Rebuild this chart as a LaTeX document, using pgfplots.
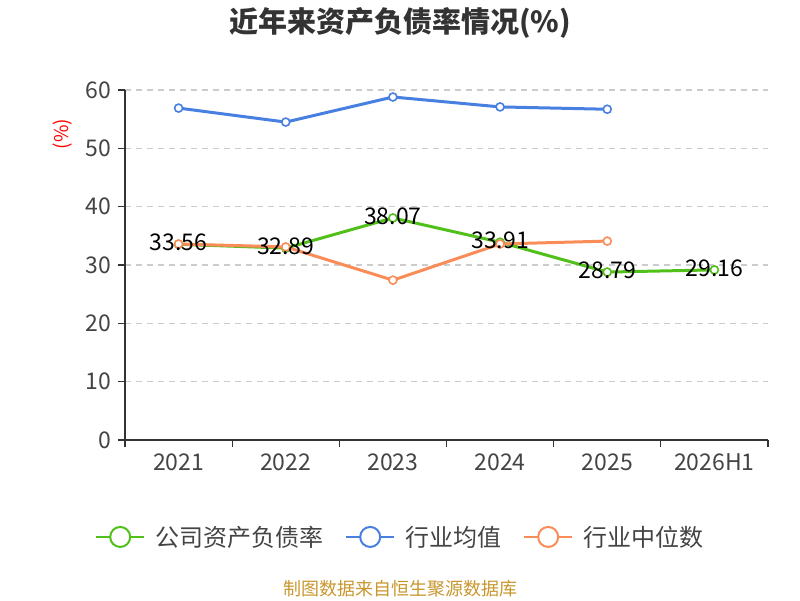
\documentclass[border=0pt]{standalone}
\usepackage{pgfplots}
\pgfplotsset{compat=1.18}
\usepackage{fontspec}
\setmainfont{Noto Sans CJK SC}
\definecolor{cgreen}{RGB}{82,192,26}
\definecolor{cblue}{RGB}{72,128,226}
\definecolor{corange}{RGB}{250,140,88}
\definecolor{axisgray}{RGB}{51,51,51}
\definecolor{gridgray}{RGB}{204,204,204}
\definecolor{txtgray}{RGB}{68,68,68}
\definecolor{footer}{RGB}{200,150,45}
\begin{document}
\begin{tikzpicture}[x=1pt,y=1pt]
\path[use as bounding box] (0,0) rectangle (800,600);
\begin{axis}[
  at={(125pt,160pt)}, anchor=south west,
  scale only axis, width=643pt, height=350pt,
  xmin=-0.5, xmax=5.5, ymin=0, ymax=60,
  axis x line=bottom, axis y line=left,
  axis line style={axisgray, line width=1.3pt, -},
  xtick={-0.5,0.5,1.5,2.5,3.5,4.5,5.5}, x tick label as interval,
  xticklabels={2021,2022,2023,2024,2025,2026H1},
  ytick={0,10,20,30,40,50,60},
  tick align=outside, major tick length=7pt,
  tick style={axisgray, line width=1.3pt},
  ymajorgrids, grid style={gridgray, dash pattern=on 6pt off 5pt, line width=1.2pt},
  /pgf/number format/assume math mode=true,
  tick label style={font=\fontsize{23}{26}\selectfont, color=txtgray},
  yticklabel style={xshift=-3pt},
  xticklabel style={yshift=-3pt},
  legend columns=3,
  legend style={draw=none, fill=none, at={(0.428,-0.277)}, anchor=center,
    font=\fontsize{24}{28}\selectfont, text=txtgray,
    /tikz/every odd column/.append style={column sep=8pt},
    /tikz/every even column/.append style={column sep=20pt}},
  legend image code/.code={
    \draw[#1, line width=2pt, mark=none] (0pt,0pt) -- (48pt,0pt);
    \draw[#1, line width=2pt, mark=none, fill=white] (24pt,0pt) circle (10pt);
  },
  every axis plot/.append style={line width=3pt, mark=*, mark size=4pt,
    mark options={fill=white, line width=1.6pt, solid}},
]
\addplot[color=cgreen] coordinates {(0,33.56) (1,32.89) (2,38.07) (3,33.91) (4,28.79) (5,29.16)};
\addlegendentry{公司资产负债率}
\addplot[color=cblue] coordinates {(0,56.9) (1,54.5) (2,58.8) (3,57.1) (4,56.7)};
\addlegendentry{行业均值}
\addplot[color=corange] coordinates {(0,33.6) (1,33.1) (2,27.4) (3,33.6) (4,34.1)};
\addlegendentry{行业中位数}
\addplot[draw=none, mark=none, forget plot,
  nodes near coords, point meta=y,
  nodes near coords style={font=\fontsize{23}{26}\selectfont, text=black, anchor=center, yshift=1.5pt,
    /pgf/number format/.cd, fixed, fixed zerofill, precision=2, assume math mode=true}]
  coordinates {(0,33.56) (1,32.89) (2,38.07) (3,33.91) (4,28.79) (5,29.16)};
\end{axis}
\node[font=\fontsize{29}{33}\selectfont\bfseries, text=axisgray] at (400,577) {近年来资产负债率情况(\%)};
\node[rotate=90, text=red, font=\fontsize{19}{22}\selectfont] at (63,466) {(\%)};
\node[text=footer, font=\fontsize{18}{21}\selectfont] at (400,11) {制图数据来自恒生聚源数据库};
\end{tikzpicture}
\end{document}
